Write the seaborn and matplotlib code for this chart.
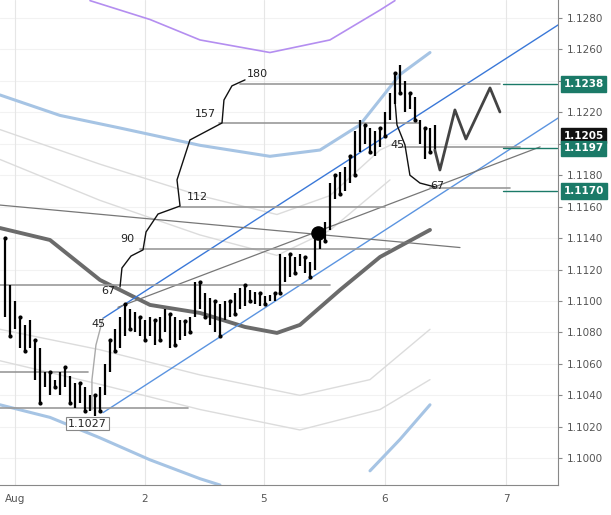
import numpy as np
import pandas as pd
import seaborn as sns
import matplotlib.pyplot as plt

# price bars (high, low), evenly spaced intraday bars
highs = [1.1140, 1.1110, 1.1100, 1.1090, 1.1085, 1.1088, 1.1075, 1.1070, 1.1055, 1.1055,
         1.1050, 1.1055, 1.1058, 1.1052, 1.1048, 1.1048, 1.1045, 1.1040, 1.1040, 1.1045,
         1.1060, 1.1075, 1.1082, 1.1090, 1.1098, 1.1095, 1.1093, 1.1090, 1.1088, 1.1090,
         1.1088, 1.1090, 1.1095, 1.1092, 1.1090, 1.1088, 1.1087, 1.1090, 1.1112, 1.1112,
         1.1105, 1.1102, 1.1100, 1.1098, 1.1100, 1.1100, 1.1105, 1.1108, 1.1110, 1.1107,
         1.1106, 1.1105, 1.1103, 1.1104, 1.1105, 1.1130, 1.1128, 1.1130, 1.1128, 1.1130,
         1.1128, 1.1125, 1.1140, 1.1145, 1.1150, 1.1175, 1.1180, 1.1182, 1.1185, 1.1192,
         1.1208, 1.1215, 1.1212, 1.1210, 1.1208, 1.1210, 1.1220, 1.1232, 1.1245, 1.1250,
         1.1240, 1.1232, 1.1230, 1.1215, 1.1210, 1.1210, 1.1212]
lows = [1.1090, 1.1078, 1.1082, 1.1070, 1.1068, 1.1070, 1.1050, 1.1035, 1.1045, 1.1040,
        1.1045, 1.1040, 1.1045, 1.1035, 1.1032, 1.1035, 1.1030, 1.1030, 1.1027, 1.1030,
        1.1040, 1.1055, 1.1068, 1.1070, 1.1078, 1.1082, 1.1080, 1.1078, 1.1075, 1.1078,
        1.1072, 1.1075, 1.1080, 1.1070, 1.1072, 1.1075, 1.1078, 1.1080, 1.1090, 1.1095,
        1.1090, 1.1085, 1.1080, 1.1078, 1.1088, 1.1090, 1.1092, 1.1095, 1.1097, 1.1100,
        1.1098, 1.1097, 1.1098, 1.1100, 1.1100, 1.1105, 1.1112, 1.1115, 1.1118, 1.1122,
        1.1118, 1.1115, 1.1120, 1.1133, 1.1138, 1.1145, 1.1165, 1.1168, 1.1170, 1.1175,
        1.1180, 1.1195, 1.1200, 1.1195, 1.1192, 1.1198, 1.1205, 1.1215, 1.1225, 1.1232,
        1.1220, 1.1222, 1.1215, 1.1200, 1.1190, 1.1195, 1.1196]
bar_t = -0.08 + 0.0413 * np.arange(len(highs))

# moving average and envelope bands (x in chart days, y price)
ma_x = [-0.124, 0.289, 0.702, 1.116, 1.529, 1.901, 2.165, 2.355, 2.686, 3.017, 3.430]
ma_y = [1.11464, 1.11388, 1.11134, 1.10975, 1.10924, 1.10835, 1.10797, 1.10848, 1.11070, 1.11280, 1.11452]
band_up_x = [-0.124, 0.372, 0.868, 1.529, 2.107, 2.521, 2.851, 3.182, 3.430]
band_up_y = [1.1231, 1.1218, 1.1210, 1.1199, 1.1192, 1.1196, 1.1212, 1.1244, 1.1258]
band_lo_x = [-0.124, 0.289, 0.702, 1.116, 1.529, 1.694]
band_lo_y = [1.1034, 1.1026, 1.1013, 1.0999, 1.0987, 1.0983]
band_lo2_x = [2.934, 3.182, 3.430]
band_lo2_y = [1.0992, 1.1012, 1.1034]
purple_x = [0.620, 1.116, 1.529, 2.107, 2.603, 3.017, 3.140]
purple_y = [1.1291, 1.1279, 1.1266, 1.1258, 1.1266, 1.1285, 1.1291]
faint_bands = [
    ([-0.124, 0.702, 1.529, 2.165, 2.603, 3.017, 3.182], [1.1209, 1.1187, 1.1167, 1.1155, 1.1167, 1.1196, 1.1202]),
    ([-0.124, 0.702, 1.529, 2.165, 2.603, 3.099], [1.1190, 1.1164, 1.1142, 1.1129, 1.1145, 1.1177]),
    ([-0.124, 0.702, 1.529, 2.355, 2.934, 3.430], [1.1082, 1.1069, 1.1053, 1.1040, 1.1050, 1.1082]),
    ([-0.124, 0.702, 1.529, 2.355, 3.017, 3.430], [1.1062, 1.1047, 1.1031, 1.1018, 1.1031, 1.1050]),
]

# trend lines
chan_up = ([0.727, 4.49], [1.1089, 1.12756])
chan_lo = ([0.727, 4.49], [1.1029, 1.12164])
gray_down = ([-0.124, 3.678], [1.1161, 1.1134])
gray_up = ([0.851, 4.34], [1.1096, 1.1198])

# horizontal levels: (price, x start, x end)
levels = [(1.1238, 1.86, 4.01), (1.1213, 1.69, 3.35), (1.1160, 1.36, 3.06),
          (1.1133, 1.03, 3.10), (1.1110, -0.124, 2.60), (1.1055, -0.124, 0.60),
          (1.1032, -0.124, 1.43), (1.1198, 3.18, 4.17), (1.1172, 3.43, 4.09)]
level_labels = [("180", 2.00, 1.1241), ("157", 1.57, 1.1216), ("112", 1.51, 1.1163),
                ("90", 0.93, 1.1136), ("67", 0.77, 1.1103), ("45", 0.69, 1.1082),
                ("45", 3.16, 1.1196), ("67", 3.49, 1.1170)]

arc_x = [0.868, 0.884, 0.959, 1.058, 1.083, 1.182, 1.364, 1.339, 1.446, 1.711, 1.727, 1.793, 1.901]
arc_y = [1.11089, 1.11210, 1.11286, 1.11325, 1.11439, 1.11553, 1.11604, 1.11770, 1.12024, 1.12132, 1.12278, 1.12368, 1.12406]
arc2_x = [3.140, 3.157, 3.223, 3.264, 3.347, 3.471]
arc2_y = [1.12278, 1.12120, 1.11993, 1.11800, 1.11750, 1.11725]
arc3_x = [0.727, 0.669, 0.636, 0.636]
arc3_y = [1.1089, 1.1072, 1.1050, 1.1031]
zig_x = [3.47, 3.512, 3.636, 3.727, 3.926, 4.008]
zig_y = [1.1196, 1.11833, 1.12215, 1.12030, 1.12355, 1.12202]
dot = (2.504, 1.1143)

day_pos = [0, 1.074, 2.058, 3.058, 4.058]
day_labels = ["Aug", "2", "5", "6", "7"]
price_ticks = np.round(np.arange(1.1000, 1.12801, 0.002), 4)
hidden_ticks = [1.1240, 1.1200]  # covered by price tags
tags = [(1.1238, "#1b7a68"), (1.1205, "#111111"), (1.1197, "#1b7a68"), (1.1170, "#1b7a68")]

sns.set_style("white")
fig = plt.figure(figsize=(6.11, 5.15), dpi=100)
ax = fig.add_axes([0.0, 30 / 515, 558 / 611, 485 / 515])
ax.set_xlim(-0.124, 4.488)
ax.set_ylim(1.0983, 1.12914)

for p in price_ticks:
    ax.axhline(p, color="#f2f2f2", lw=0.8, zorder=0)
for d in day_pos:
    ax.axvline(d, color="#e6e6e6", lw=0.8, zorder=0)

for fx, fy in faint_bands:
    sns.lineplot(x=fx, y=fy, ax=ax, color="#dcdcdc", lw=1)
sns.lineplot(x=band_up_x, y=band_up_y, ax=ax, color="#a6c4e4", lw=2.2)
sns.lineplot(x=band_lo_x, y=band_lo_y, ax=ax, color="#a6c4e4", lw=2.2)
sns.lineplot(x=band_lo2_x, y=band_lo2_y, ax=ax, color="#a6c4e4", lw=2.2)
sns.lineplot(x=purple_x, y=purple_y, ax=ax, color="#b48ef0", lw=1.2)
sns.lineplot(x=ma_x, y=ma_y, ax=ax, color="#6b6b6b", lw=2.8, sort=False)

ax.plot(*chan_up, color="#3a78d8", lw=1)
ax.plot(*chan_lo, color="#5b94e0", lw=1)
ax.plot(*gray_down, color="#777777", lw=0.9)
ax.plot(*gray_up, color="#777777", lw=0.9)

for y, x0, x1 in levels:
    ax.plot([x0, x1], [y, y], color="#999999", lw=1.2)
for txt, x, y in level_labels:
    ax.text(x, y, txt, fontsize=8, color="#222222", ha="center", va="bottom")

ax.plot(arc_x, arc_y, color="#111111", lw=1)
ax.plot(arc2_x, arc2_y, color="#111111", lw=1)
ax.plot(arc3_x, arc3_y, color="#aaaaaa", lw=1)

ax.vlines(bar_t, lows, highs, color="black", lw=1.6)
ax.scatter(bar_t[::3], np.array(highs)[::3], s=4, color="black", zorder=3)
ax.scatter(bar_t[1::3], np.array(lows)[1::3], s=4, color="black", zorder=3)
ax.plot(zig_x, zig_y, color="#444444", lw=2)
ax.scatter([dot[0]], [dot[1]], s=90, color="black", zorder=4)

ax.text(0.6, 1.1022, "1.1027", fontsize=8, ha="center", va="center",
        bbox=dict(boxstyle="square,pad=0.15", fc="white", ec="#888888", lw=0.8))

ax.yaxis.tick_right()
ax.set_yticks(price_ticks)
ax.set_yticklabels(["" if p in hidden_ticks else f"{p:.4f}" for p in price_ticks],
                   fontsize=7.5, color="#555555")
ax.set_xticks(day_pos)
ax.set_xticklabels(day_labels, fontsize=7.5, color="#555555")
ax.tick_params(length=3, color="#888888")
for s in ["top", "left"]:
    ax.spines[s].set_visible(False)
for s in ["right", "bottom"]:
    ax.spines[s].set_color("#888888")

for y, c in tags:
    ax.annotate(f"{y:.4f}", xy=(1.0, y), xycoords=("axes fraction", "data"),
                xytext=(4, 0), textcoords="offset points", fontsize=7.5,
                color="white", fontweight="bold", va="center", ha="left",
                bbox=dict(boxstyle="square,pad=0.25", fc=c, ec=c))
    if c != "#111111":
        ax.plot([4.03, 4.48], [y, y], color=c, lw=1, clip_on=False)

fig.savefig("out.png", dpi=100)
